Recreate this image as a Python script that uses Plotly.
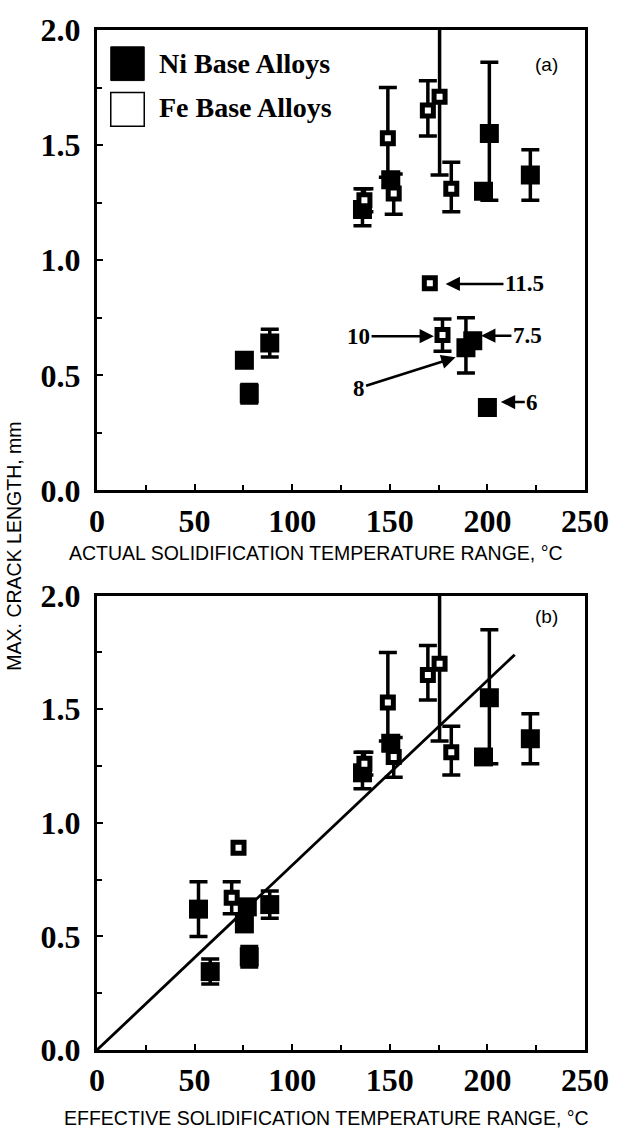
import plotly.graph_objects as go
from plotly.subplots import make_subplots

# ---------------- data ----------------
# Panel (a): actual solidification temperature range
a_ni_x = [75.5, 78, 88.5, 136, 150.5, 189, 192.5, 198, 201, 200, 222]
a_ni_y = [0.565, 0.42, 0.64, 1.22, 1.35, 0.62, 0.65, 1.30, 1.55, 0.36, 1.37]
a_ni_ep = [0, 0.04, 0.06, 0.09, 0.03, 0.13, 0, 0, 0.31, 0, 0.11]
a_ni_em = [0, 0.04, 0.06, 0.07, 0.03, 0.11, 0, 0, 0.29, 0, 0.11]

a_fe_x = [137, 149, 152, 169.5, 175.5, 181.5, 170.5, 177]
a_fe_y = [1.26, 1.53, 1.29, 1.65, 1.71, 1.31, 0.90, 0.675]
a_fe_ep = [0.05, 0.22, 0.085, 0.13, 1.0, 0.115, 0, 0.07]
a_fe_em = [0.05, 0.17, 0.09, 0.11, 0.34, 0.10, 0, 0.07]

# Panel (b): effective solidification temperature range
b_ni_x = [75.5, 78, 88.5, 136, 150.5, 52, 77, 198, 201, 58, 222]
b_ni_y = [0.555, 0.41, 0.64, 1.22, 1.35, 0.62, 0.63, 1.29, 1.55, 0.345, 1.37]
b_ni_ep = [0, 0.045, 0.06, 0.09, 0.03, 0.12, 0, 0, 0.30, 0.055, 0.11]
b_ni_em = [0, 0.045, 0.06, 0.07, 0.03, 0.12, 0, 0, 0.29, 0.055, 0.11]

b_fe_x = [137, 149, 152, 169.5, 175.5, 181.5, 72.5, 69]
b_fe_y = [1.26, 1.53, 1.29, 1.65, 1.70, 1.31, 0.89, 0.67]
b_fe_ep = [0.05, 0.22, 0.085, 0.13, 1.0, 0.115, 0, 0.07]
b_fe_em = [0.05, 0.17, 0.09, 0.11, 0.34, 0.10, 0, 0.07]

# regression line in panel (b)
fit_x = [0, 214]
fit_y = [0, 1.74]

# labelled points in panel (a): label, arrow head (x, y), label position (x, y)
lab_text = ["11.5", "10", "7.5", "8", "6"]
lab_head_x = [178.6, 172.6, 196.8, 183.7, 206.9]
lab_head_y = [0.897, 0.67, 0.672, 0.578, 0.384]
lab_pos_x = [219, 134, 220.5, 134, 223]
lab_pos_y = [0.897, 0.67, 0.672, 0.444, 0.384]

x_ticks = [0, 50, 100, 150, 200, 250]
y_ticks = [0.0, 0.5, 1.0, 1.5, 2.0]

# ---------------- figure ----------------
fig = make_subplots(rows=2, cols=1, vertical_spacing=0.1)

ERR = dict(type="data", symmetric=False, color="black", thickness=3.5, width=9)


def add_series(row, xs, ys, ep, em, filled):
    with_bar = [i for i in range(len(xs)) if ep[i] > 0 or em[i] > 0]
    no_bar = [i for i in range(len(xs)) if not (ep[i] > 0 or em[i] > 0)]
    if filled:
        marker = dict(symbol="square", size=19, color="black", line=dict(width=0))
    else:
        marker = dict(symbol="square", size=11, color="white",
                      line=dict(width=5, color="black"))
    for idx, bar in ((no_bar, False), (with_bar, True)):
        if not idx:
            continue
        tr = go.Scatter(
            x=[xs[i] for i in idx], y=[ys[i] for i in idx],
            mode="markers", marker=marker, showlegend=False, hoverinfo="x+y",
        )
        if bar:
            tr.error_y = dict(ERR, array=[ep[i] for i in idx],
                              arrayminus=[em[i] for i in idx])
        fig.add_trace(tr, row=row, col=1)


add_series(1, a_ni_x, a_ni_y, a_ni_ep, a_ni_em, True)
add_series(1, a_fe_x, a_fe_y, a_fe_ep, a_fe_em, False)
fig.add_trace(go.Scatter(x=fit_x, y=fit_y, mode="lines",
                         line=dict(color="black", width=2.8),
                         showlegend=False, hoverinfo="skip"), row=2, col=1)
add_series(2, b_ni_x, b_ni_y, b_ni_ep, b_ni_em, True)
add_series(2, b_fe_x, b_fe_y, b_fe_ep, b_fe_em, False)

SERIF = "Liberation Serif, Times New Roman, serif"
SANS = "Liberation Sans, Arial, sans-serif"

axis_common = dict(
    showline=True, linecolor="black", linewidth=3, mirror=True,
    ticks="inside", ticklen=6, tickwidth=2, tickcolor="black",
    showgrid=False, zeroline=False,
    tickfont=dict(family=SERIF, size=32, color="black", weight="bold"),
)
for ax in ("xaxis", "xaxis2"):
    fig.update_layout({ax: dict(axis_common, range=[0, 250], tickvals=x_ticks,
                                ticktext=[str(v) for v in x_ticks],
                                minor=dict(dtick=25, tick0=0, ticks="inside",
                                           ticklen=5, tickwidth=2, tickcolor="black"),
                                ticklabelstandoff=0)})
for ax in ("yaxis", "yaxis2"):
    fig.update_layout({ax: dict(axis_common, range=[0, 2.0], tickvals=y_ticks,
                                ticktext=["%.1f" % v for v in y_ticks],
                                minor=dict(dtick=0.25, tick0=0, ticks="inside",
                                           ticklen=5, tickwidth=2, tickcolor="black"),
                                ticklabelstandoff=7)})

fig.update_layout(
    yaxis=dict(domain=[0.5486, 1.0]),
    yaxis2=dict(domain=[0.0, 0.4455]),
    width=621, height=1133,
    margin=dict(l=97, r=28, t=22, b=83),
    plot_bgcolor="white", paper_bgcolor="white",
    showlegend=False,
)

ann = []
# axis titles
ann.append(dict(text="ACTUAL SOLIDIFICATION TEMPERATURE RANGE, °C", xref="paper", yref="paper",
                x=0.4496, y=0.4874, showarrow=False, xanchor="center", yanchor="middle",
                font=dict(family=SANS, size=19.5, color="black")))
ann.append(dict(text="EFFECTIVE SOLIDIFICATION TEMPERATURE RANGE, °C", xref="paper", yref="paper",
                x=0.47, y=-0.0665, showarrow=False, xanchor="center", yanchor="middle",
                font=dict(family=SANS, size=19.5, color="black")))
ann.append(dict(text="MAX. CRACK LENGTH, mm", xref="paper", yref="paper",
                x=-0.169, y=0.494, showarrow=False, textangle=-90,
                xanchor="center", yanchor="middle",
                font=dict(family=SANS, size=19.5, color="black")))
# panel letters
ann.append(dict(text="(a)", xref="paper", yref="paper", x=0.948, y=0.9786,
                showarrow=False, font=dict(family=SANS, size=19, color="black")))
ann.append(dict(text="(b)", xref="paper", yref="paper", x=0.948, y=0.425,
                showarrow=False, font=dict(family=SANS, size=19, color="black")))
# legend text
ann.append(dict(text="<b>Ni Base Alloys</b>", xref="paper", yref="paper",
                x=0.1230, y=(1050 - 56) / 1028, xanchor="left", yanchor="middle",
                showarrow=False, font=dict(family=SERIF, size=28, color="black")))
ann.append(dict(text="<b>Fe Base Alloys</b>", xref="paper", yref="paper",
                x=0.1230, y=(1050 - 100) / 1028, xanchor="left", yanchor="middle",
                showarrow=False, font=dict(family=SERIF, size=28, color="black")))
# labelled arrows in panel (a)
for t, hx, hy, px, py in zip(lab_text, lab_head_x, lab_head_y, lab_pos_x, lab_pos_y):
    ann.append(dict(text="<b>%s</b>" % t, x=hx, y=hy, ax=px, ay=py,
                    xref="x", yref="y", axref="x", ayref="y",
                    showarrow=True, arrowhead=2, arrowsize=1.1, arrowwidth=2.6,
                    arrowcolor="black", standoff=0, startstandoff=0,
                    font=dict(family=SERIF, size=23, color="black")))
fig.update_layout(annotations=ann)

# legend swatches
fig.add_shape(type="rect", xref="paper", yref="paper",
              x0=0.0282, x1=0.0968, y0=0.9504, y1=0.9835,
              fillcolor="black", line=dict(color="black", width=1))
fig.add_shape(type="rect", xref="paper", yref="paper",
              x0=0.0282, x1=0.0968, y0=0.9056, y1=0.9387,
              fillcolor="white", line=dict(color="black", width=1.5))

fig.write_html("out.html")
